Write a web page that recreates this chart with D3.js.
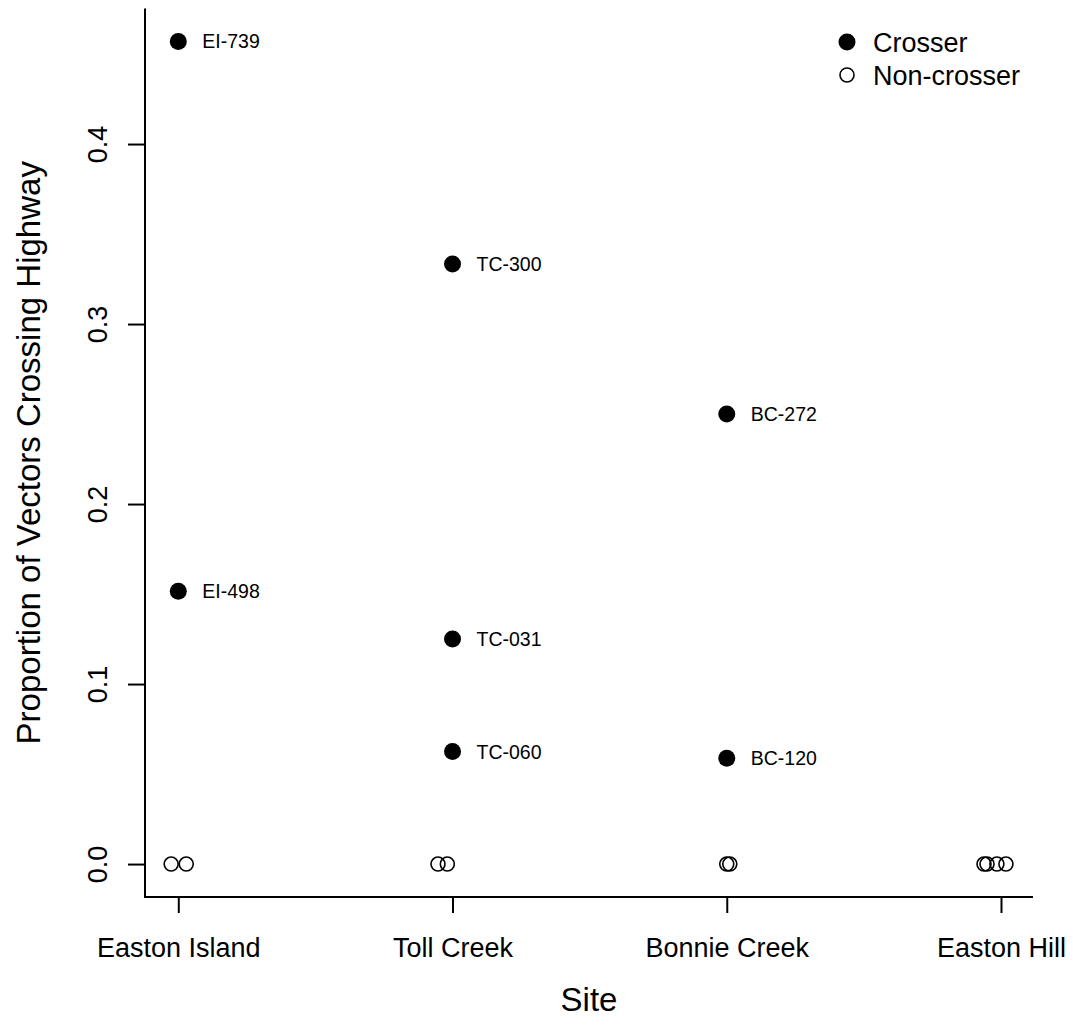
<!DOCTYPE html>
<html>
<head>
<meta charset="utf-8">
<script src="https://cdn.jsdelivr.net/npm/d3@7"></script>
<style>
  body { margin: 0; background: #fff; }
  svg text { font-family: "Liberation Sans", Arial, sans-serif; fill: #000; }
</style>
</head>
<body>
<div id="chart"></div>
<script>
// sites on the x axis
const sites = ['Easton Island', 'Toll Creek', 'Bonnie Creek', 'Easton Hill'];
const yTicks = [0, 0.1, 0.2, 0.3, 0.4];

// crossers (labelled)
const crosserIds = ['EI-739', 'EI-498', 'TC-300', 'TC-031', 'TC-060', 'BC-272', 'BC-120'];
const crosserSite = [1, 1, 2, 2, 2, 3, 3];
const crosserProp = [0.457, 0.1515, 0.3333, 0.125, 0.0625, 0.25, 0.0588];

// non-crossers (jittered along x)
const nonSite = [1, 1, 2, 2, 3, 3, 4, 4, 4, 4];
const nonJitter = [-0.026, 0.029, -0.053, -0.019, 0, 0.011, -0.062, -0.051, -0.015, 0.018];
const nonProp = [0, 0, 0, 0, 0, 0, 0, 0, 0, 0];

const W = 1073, H = 1025;
const svg = d3.select('#chart').append('svg')
  .attr('width', W).attr('height', H);

const x = d3.scaleLinear().domain([0.8786, 4.1167]).range([145, 1033]);
const y = d3.scaleLinear().domain([-0.0183, 0.4753]).range([897, 8.5]);

// L-shaped box
svg.append('path')
  .attr('d', `M${x.range()[0]},${y.range()[1]}V${y.range()[0]}H${x.range()[1]}`)
  .attr('fill', 'none').attr('stroke', '#000').attr('stroke-width', 2);

// y axis
const yAxis = svg.append('g')
  .attr('transform', `translate(${x.range()[0]},0)`)
  .call(d3.axisLeft(y).tickValues(yTicks).tickFormat(d3.format('.1f')).tickSize(17).tickPadding(0));
yAxis.select('.domain').remove();
yAxis.selectAll('line').attr('stroke', '#000').attr('stroke-width', 2);
yAxis.selectAll('text')
  .attr('x', null).attr('dy', null)
  .attr('transform', 'translate(-38,0) rotate(-90)')
  .style('text-anchor', 'middle')
  .style('font-size', '27px');

// x axis
const xAxis = svg.append('g')
  .attr('transform', `translate(0,${y.range()[0]})`)
  .call(d3.axisBottom(x).tickValues([1, 2, 3, 4]).tickFormat(d => sites[d - 1]).tickSize(16).tickPadding(0));
xAxis.select('.domain').remove();
xAxis.selectAll('line').attr('stroke', '#000').attr('stroke-width', 2);
xAxis.selectAll('text')
  .attr('dy', null).attr('y', 60)
  .style('font-size', '27px');

// axis titles
svg.append('text')
  .attr('x', (x.range()[0] + x.range()[1]) / 2).attr('y', 1011)
  .attr('text-anchor', 'middle')
  .style('font-size', '33px')
  .text('Site');

svg.append('text')
  .attr('transform', `translate(40,${(y.range()[0] + y.range()[1]) / 2}) rotate(-90)`)
  .attr('text-anchor', 'middle')
  .style('font-size', '33px')
  .text('Proportion of Vectors Crossing Highway');

// non-crossers
svg.append('g').selectAll('circle')
  .data(nonProp)
  .join('circle')
  .attr('cx', (d, i) => x(nonSite[i] + nonJitter[i]))
  .attr('cy', d => y(d))
  .attr('r', 7)
  .attr('fill', 'none').attr('stroke', '#000').attr('stroke-width', 1.6);

// crossers
const cr = svg.append('g');
cr.selectAll('circle')
  .data(crosserProp)
  .join('circle')
  .attr('cx', (d, i) => x(crosserSite[i]))
  .attr('cy', d => y(d))
  .attr('r', 8.5)
  .attr('fill', '#000');
cr.selectAll('text')
  .data(crosserProp)
  .join('text')
  .attr('x', (d, i) => x(crosserSite[i]) + 24)
  .attr('y', d => y(d))
  .attr('dy', '0.36em')
  .style('font-size', '19.5px')
  .text((d, i) => crosserIds[i]);

// legend
const legend = svg.append('g');
const legItems = [['Crosser', true], ['Non-crosser', false]];
legItems.forEach(([label, filled], i) => {
  const ly = 42 + i * 33;
  legend.append('circle')
    .attr('cx', 847).attr('cy', ly)
    .attr('r', filled ? 8.5 : 7)
    .attr('fill', filled ? '#000' : 'none')
    .attr('stroke', filled ? 'none' : '#000')
    .attr('stroke-width', 1.6);
  legend.append('text')
    .attr('x', 873).attr('y', ly)
    .attr('dy', '0.36em')
    .style('font-size', '27px')
    .text(label);
});
</script>
</body>
</html>
